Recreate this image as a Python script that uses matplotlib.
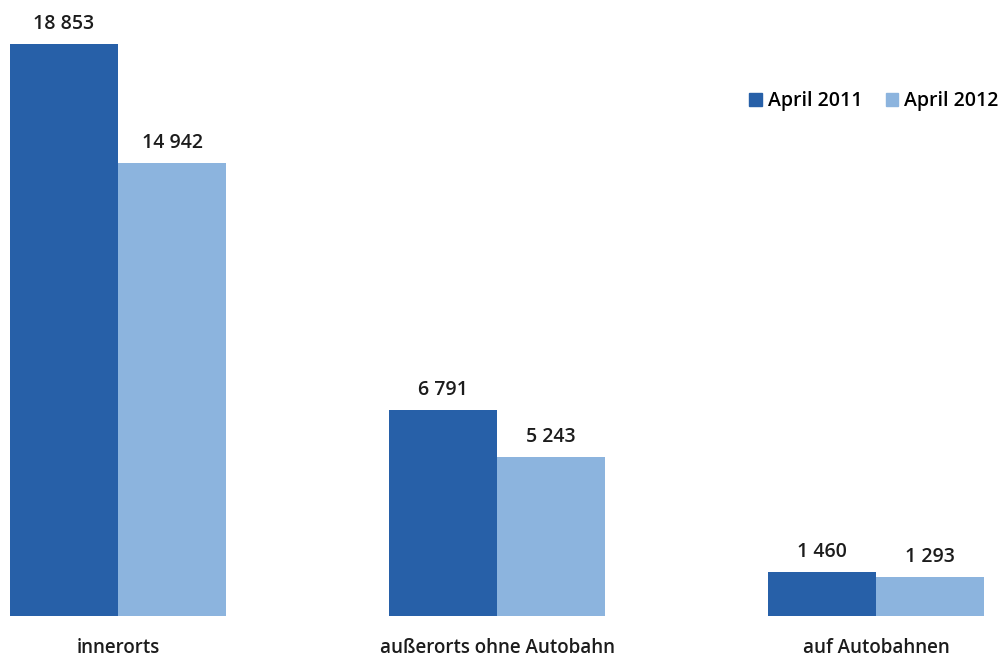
import matplotlib.pyplot as plt
import numpy as np
from matplotlib.patches import Patch

# Data
categories = ["innerorts", "außerorts ohne Autobahn", "auf Autobahnen"]
april_2011 = [18853, 6791, 1460]
april_2012 = [14942, 5243, 1293]
series_names = ["April 2011", "April 2012"]

dark = "#2760A8"
light = "#8CB4DE"
txt = "#1c1c1c"

def fmt(v):
    return f"{v:,}".replace(",", " ")

plt.rcParams["font.family"] = ["Open Sans", "DejaVu Sans"]

fig = plt.figure(figsize=(10.05, 6.63), dpi=100)
ax = fig.add_axes([0, 47 / 663, 1, 616 / 663])

x = np.arange(len(categories))
w = 108 / 379
b1 = ax.bar(x - w / 2, april_2011, width=w, color=dark, label=series_names[0])
b2 = ax.bar(x + w / 2, april_2012, width=w, color=light, label=series_names[1])

for bars, vals in [(b1, april_2011), (b2, april_2012)]:
    for r, v in zip(bars, vals):
        ax.annotate(fmt(v), (r.get_x() + r.get_width() / 2, v),
                    xytext=(0, 7), textcoords="offset points",
                    ha="center", va="bottom", fontsize=14, color=txt,
                    fontweight="semibold")

ax.set_xlim(-118 / 379, 887 / 379)
ax.set_ylim(0, 616 / 0.03034)
ax.set_xticks(x)
ax.set_xticklabels(categories, fontsize=13.5, color=txt, fontweight="semibold")
ax.tick_params(axis="x", length=0, pad=16)
ax.set_yticks([])
for s in ax.spines.values():
    s.set_visible(False)

handles = [Patch(color=dark), Patch(color=light)]
fig.legend(handles, series_names, loc="center", bbox_to_anchor=(874 / 1005, 1 - 101 / 663),
           ncol=2, frameon=False, handlelength=0.65, handleheight=0.65,
           handletextpad=0.3, columnspacing=1.2,
           prop={"size": 14, "weight": "semibold"})

fig.savefig("out.png", dpi=100)
